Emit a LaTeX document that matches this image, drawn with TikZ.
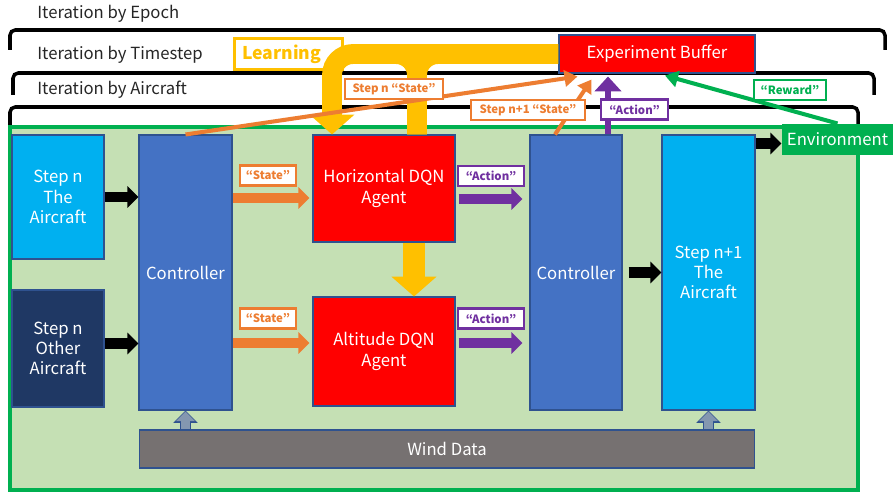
\documentclass[tikz,border=0pt]{standalone}
\usepackage{fontspec}
\setmainfont{Noto Sans CJK JP}
\usetikzlibrary{arrows.meta,calc}
\definecolor{cyanA}{HTML}{00B0F0}
\definecolor{navyA}{HTML}{1F3864}
\definecolor{ctrlBlue}{HTML}{4472C4}
\definecolor{agentRed}{HTML}{FF0000}
\definecolor{windGray}{HTML}{767171}
\definecolor{envGreen}{HTML}{00B050}
\definecolor{frameFill}{HTML}{C5E0B4}
\definecolor{learnY}{HTML}{FFC000}
\definecolor{stateOr}{HTML}{ED7D31}
\definecolor{actPur}{HTML}{7030A0}
\definecolor{blkLine}{HTML}{2F528F}
\definecolor{arrGray}{HTML}{8497B0}
\definecolor{hdr}{HTML}{262626}

\begin{document}
\begin{tikzpicture}[x=0.02cm,y=-0.02cm,font=\fontsize{9.5}{11.6}\selectfont,
  blk/.style={draw=blkLine,line width=0.6pt,text=white,align=center,inner sep=0pt},
  lbl/.style={draw=#1,text=#1,fill=white,line width=1.5pt,inner sep=0pt,
    font=\fontsize{6.5}{7}\selectfont\bfseries,minimum height=0.4cm},
  brk/.style={line width=2pt,rounded corners=3pt},
  fat/.style={line width=#1,-{Triangle[width=0pt 2.1,length=0pt 1.1]}},
  thin/.style={line width=#1,-{Triangle[width=0pt 4,length=0pt 3.2]}}]
\useasboundingbox (0,0) rectangle (893,493);

% the three loops
\node[anchor=west,inner sep=0pt,text=hdr] (epoch) at (37,14) {Iteration by Epoch};
\node[anchor=west,inner sep=0pt,text=hdr] (tstep) at (37,55) {Iteration by Timestep};
\node[anchor=west,inner sep=0pt,text=hdr] (perac) at (37,90) {Iteration by Aircraft};
\draw[brk] (10,50) |- (885,30) -- (885,50);
\draw[brk] (13,95) |- (874,73) -- (874,95);
\draw[brk] (10,127) |- (858,107) -- (858,127);
\draw[envGreen,fill=frameFill,line width=2.3pt] (10,127) rectangle (858,490);

% blocks
\node[blk,fill=cyanA,minimum width=1.84cm,minimum height=2.48cm] (stepA) at (58,197) {Step n\\The\\Aircraft};
\node[blk,fill=navyA,minimum width=1.84cm,minimum height=2.34cm] (otherA) at (58,348.5) {Step n\\Other\\Aircraft};
\node[blk,fill=ctrlBlue,minimum width=1.86cm,minimum height=5.5cm] (ctrlA) at (185.5,272.5) {Controller};
\node[blk,fill=agentRed,minimum width=2.84cm,minimum height=2.14cm] (horiz) at (384,188.5) {Horizontal DQN\\Agent};
\node[blk,fill=agentRed,minimum width=2.84cm,minimum height=2.18cm] (alti) at (384,351.5) {Altitude DQN\\Agent};
\node[blk,fill=ctrlBlue,minimum width=1.84cm,minimum height=5.5cm] (ctrlB) at (576,272.5) {Controller};
\node[blk,fill=cyanA,minimum width=1.86cm,minimum height=5.5cm] (nextA) at (708.5,272.5) {Step n+1\\The\\Aircraft};
\node[blk,fill=windGray,minimum width=12.32cm,minimum height=0.76cm] (wind) at (447,449) {Wind Data};
\node[blk,fill=envGreen,draw=none,minimum width=2.22cm,minimum height=0.62cm] (env) at (837.5,139.5) {Environment};
\node[blk,fill=agentRed,minimum width=3.92cm,minimum height=0.76cm] (buffer) at (657,54) {Experiment Buffer};
\node[draw=learnY,line width=1.7pt,fill=white,text=learnY,font=\fontsize{10}{11}\selectfont\bfseries,
  inner sep=0pt,text width=1.96cm,align=left,minimum width=2.18cm,minimum height=0.62cm] (learn) at (288.5,54) {\hspace*{0.06cm}Learning};

% learning loop
\coordinate (learnDrop) at ($(horiz.north)+(-52,0)$);
\coordinate (learnStem) at ($(horiz.north)+(33,0)$);
\draw[learnY,line width=11.3pt,rounded corners=12pt,-{Triangle[width=0pt 2.2,length=0pt 1]}]
  (buffer.west) -- (learnDrop |- buffer.west) -- (learnDrop);
\draw[learnY,line width=11.3pt,rounded corners=12pt] (learnStem) -- (learnStem |- buffer.west) -- ++(40,0);
\draw[learnY,line width=11.3pt,rounded corners=12pt] (learnStem) -- (learnStem |- buffer.west) -- ++(-40,0);
\draw[learnY,line width=12.5pt,-{Triangle[width=0pt 2,length=0pt 0.9]}] ($(horiz.south)+(30,0)$) -- ($(alti.north)+(30,0)$);

% block arrows
\draw[fat=5.7pt] (stepA.east) -- (stepA.east -| ctrlA.west);
\draw[fat=5.7pt] ($(otherA.east)+(0,-5)$) -- ($(otherA.east -| ctrlA.west)+(0,-5)$);
\draw[fat=5.7pt,shorten <=0.12cm] (ctrlB.east) -- (nextA.west);
\draw[fat=5.7pt] ($(nextA.east |- env.west)+(0,4)$) -- ($(env.west)+(0,4)$);
\draw[stateOr,fat=5.7pt,shorten >=0.06cm] (ctrlA.east |- 0,198) -- (horiz.west |- 0,198);
\draw[stateOr,fat=5.7pt,shorten >=0.06cm] (ctrlA.east |- 0,343) -- (alti.west |- 0,343);
\draw[actPur,fat=5.7pt,shorten <=0.06cm,shorten >=0.14cm] (horiz.east |- 0,199) -- (ctrlB.west |- 0,199);
\draw[actPur,fat=5.7pt,shorten <=0.06cm,shorten >=0.14cm] (alti.east |- 0,343) -- (ctrlB.west |- 0,343);
\foreach \up in {ctrlA,nextA}{
  \draw[blkLine,line width=6.4pt,-{Triangle[width=0pt 2.1,length=0pt 1.1]}] (\up.south |- wind.north) -- (\up.south);
  \draw[arrGray,fat=5pt,shorten <=0.4pt,shorten >=0.6pt] (\up.south |- wind.north) -- (\up.south);
}

% to the buffer
\coordinate (actFoot) at ($(ctrlB.north)+(32,0)$);
\coordinate (actTip) at ($(ctrlB.north)+(32,-58)$);
\draw[stateOr,thin=2.3pt] (ctrlA.north) -- ($(buffer.south west)+(19,3)$);
\draw[stateOr,thin=2.3pt] ($(ctrlB.north)+(-21,0)$) -- ($(buffer.south west)+(33,6)$);
\draw[actPur,line width=3.4pt,-{Triangle[width=0pt 4.4,length=0pt 2.5]}] (actFoot) -- (actTip);
\draw[envGreen,thin=2.3pt] (env.north) -- ($(buffer.south)+(8,2)$);

% labels
\node[lbl=stateOr,minimum width=1.12cm] (stateH) at (268,175.5) {“State”};
\node[lbl=stateOr,minimum width=1.12cm] (stateV) at (268,318.5) {“State”};
\node[lbl=actPur,minimum width=1.32cm] (actH) at (491,176) {“Action”};
\node[lbl=actPur,minimum width=1.32cm] (actV) at (491,318.5) {“Action”};
\node[lbl=stateOr,minimum width=1.96cm] (stateN) at (394,89) {Step n “State”};
\node[lbl=stateOr,minimum width=2.28cm] (stateN1) at (528,110) {Step n+1 “State”};
\node[lbl=actPur,minimum width=1.34cm] (actBuf) at (634.5,109.5) {“Action”};
\node[lbl=envGreen,minimum width=1.44cm] (reward) at (790,90) {“Reward”};
\end{tikzpicture}
\end{document}
